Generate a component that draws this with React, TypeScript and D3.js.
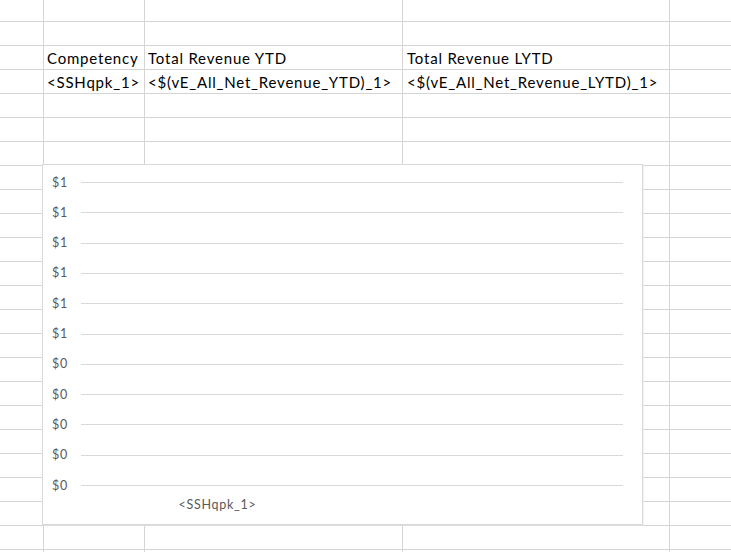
import React from "react";
import * as d3 from "d3";

// Spreadsheet cells
const headerCells = ["Competency", "Total Revenue YTD", "Total Revenue LYTD"];
const valueCells = ["<SSHqpk_1>", "<$(vE_All_Net_Revenue_YTD)_1>", "<$(vE_All_Net_Revenue_LYTD)_1>"];

// Chart data
const categories = ["<SSHqpk_1>", ""];
const revenueYTD = [0, 0];
const revenueLYTD = [0, 0];
const yTickValues = [0, 0.1, 0.2, 0.3, 0.4, 0.5, 0.6, 0.7, 0.8, 0.9, 1.0];
const yTickLabels = ["$0", "$0", "$0", "$0", "$0", "$1", "$1", "$1", "$1", "$1", "$1"];

const W = 731;
const H = 552;
const colLines = [43, 144, 402, 669];
const rowTop = 21;
const rowH = 24;

const chart = { x: 42.5, y: 164.5, w: 600, h: 360 };
const plot = { left: 81, right: 623, top: 182, bottom: 485 };

const cellFont = "Lato, 'Open Sans', sans-serif";
const grid = "#d4d4d4";

export default function App() {
  const rows = d3.range(0, 23).map((i) => rowTop + i * rowH);
  const y = d3.scaleLinear().domain([0, 1]).range([plot.bottom, plot.top]);
  const x = d3.scaleBand().domain(categories.map((c, i) => String(i))).range([plot.left, plot.right]).paddingInner(0.2).paddingOuter(0.1);
  const x0 = d3.scaleBand().domain(categories.map((c, i) => String(i))).range([plot.left, plot.right]);
  const inner = d3.scaleBand().domain(["ytd", "lytd"]).range([0, x.bandwidth()]);

  return (
    <svg width={W} height={H} style={{ position: "absolute", left: 0, top: 0, background: "#fff" }}>
      {/* sheet grid */}
      {rows.map((r) => (
        <line key={"r" + r} x1={0} x2={W} y1={r + 0.5} y2={r + 0.5} stroke={grid} strokeWidth={1} />
      ))}
      {colLines.map((c) => (
        <line key={"c" + c} x1={c + 0.5} x2={c + 0.5} y1={0} y2={H} stroke={grid} strokeWidth={1} />
      ))}
      {/* cell texts */}
      {[47, 148, 407].map((cx, i) => (
        <text key={"h" + i} x={cx} y={64} fontFamily={cellFont} fontSize={15} letterSpacing={0.8} fill="#000">
          {headerCells[i]}
        </text>
      ))}
      {[47, 148, 407].map((cx, i) => (
        <text key={"v" + i} x={cx} y={88} fontFamily={cellFont} fontSize={15} letterSpacing={0.8} fill="#000">
          {valueCells[i]}
        </text>
      ))}

      {/* chart area */}
      <rect x={chart.x + 1} y={chart.y + 1} width={chart.w} height={chart.h} fill="#e6e6e6" />
      <rect x={chart.x} y={chart.y} width={chart.w} height={chart.h} fill="#fff" stroke="#d9d9d9" strokeWidth={1} />

      {yTickValues.map((v, i) => (
        <g key={"t" + i}>
          <line x1={plot.left} x2={plot.right} y1={Math.round(y(v)) + 0.5} y2={Math.round(y(v)) + 0.5} stroke="#d9d9d9" strokeWidth={1} />
          <text x={68} y={y(v) + 4.5} textAnchor="end" fontFamily={cellFont} fontSize={12.5} letterSpacing={0.8} fill="#595959">
            {yTickLabels[i]}
          </text>
        </g>
      ))}

      {categories.map((c, i) => {
        const bx = x(String(i)) ?? 0;
        return (
          <g key={"b" + i}>
            <rect x={bx + (inner("ytd") ?? 0)} y={y(revenueYTD[i])} width={inner.bandwidth()} height={plot.bottom - y(revenueYTD[i])} fill="#4472c4" />
            <rect x={bx + (inner("lytd") ?? 0)} y={y(revenueLYTD[i])} width={inner.bandwidth()} height={plot.bottom - y(revenueLYTD[i])} fill="#ed7d31" />
            <text x={(x0(String(i)) ?? 0) + x0.bandwidth() / 2 + 1} y={508.5} textAnchor="middle" fontFamily={cellFont} fontSize={12.5} letterSpacing={0.7} fill="#595959">
              {c}
            </text>
          </g>
        );
      })}
    </svg>
  );
}
